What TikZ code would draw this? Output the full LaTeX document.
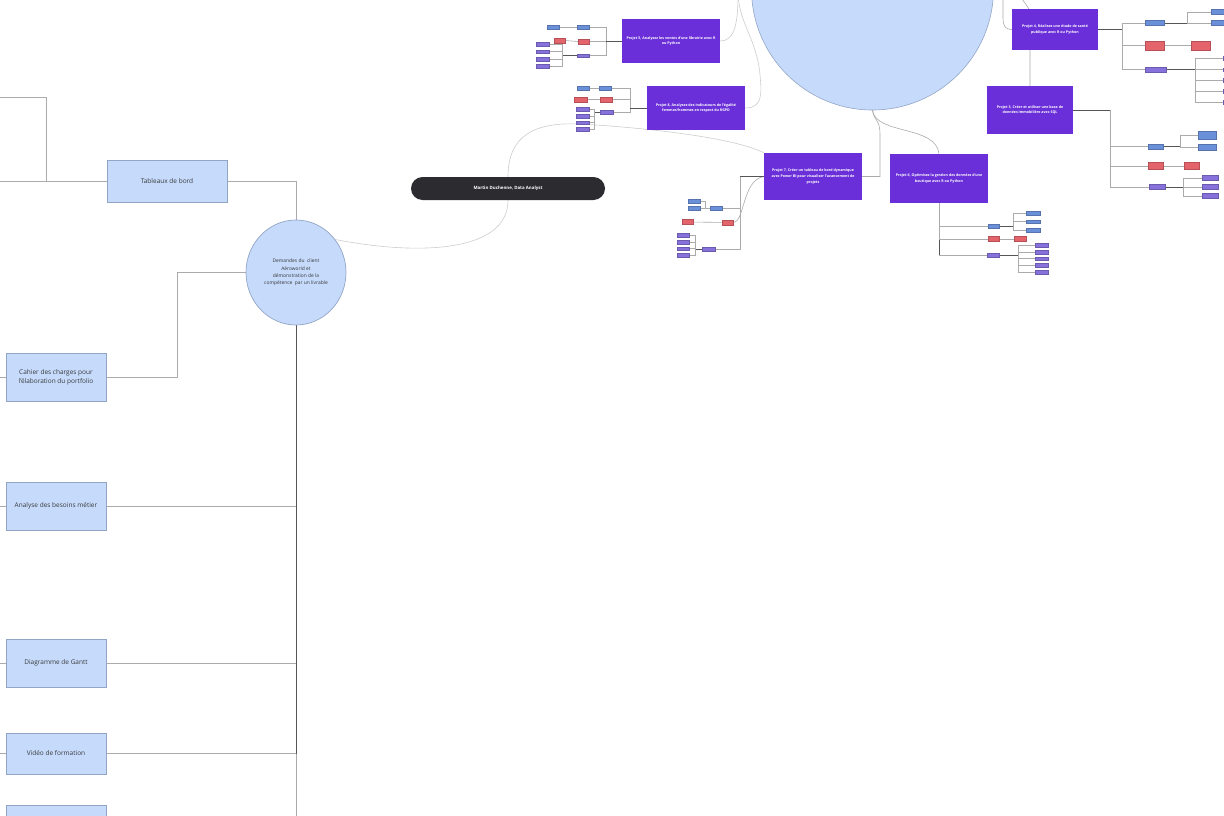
\documentclass[tikz,border=0pt]{standalone}
\usepackage{fontspec}
\setmainfont{Open Sans}
\usetikzlibrary{backgrounds,shapes.geometric}

\definecolor{boxblue}{HTML}{C6DBFC}
\definecolor{boxedge}{HTML}{93A5C4}
\definecolor{proj}{HTML}{6A2FD8}
\definecolor{pillgray}{HTML}{2B2B30}
\definecolor{tagblue}{HTML}{6B90DA}
\definecolor{tagred}{HTML}{E4646B}
\definecolor{tagpurple}{HTML}{8672DA}
\definecolor{wirecol}{HTML}{ABABAB}
\definecolor{wiredarkcol}{HTML}{555555}
\definecolor{wirefaintcol}{HTML}{CDCDCD}

\tikzset{
  topic/.style={draw=boxedge, fill=boxblue, line width=0.7pt, minimum width=100pt,
    minimum height=48pt, align=center, text=black!78, inner sep=1pt,
    font=\fontsize{6.5}{9}\selectfont},
  project/.style={fill=proj, minimum width=98pt, minimum height=44pt, align=center,
    text=white, inner sep=1pt, font=\fontsize{3.6}{5.6}\selectfont\bfseries},
  pill/.style={fill=pillgray, rounded corners=11.5pt, minimum width=194pt,
    minimum height=23pt, text=white, font=\fontsize{4.4}{5}\selectfont\bfseries},
  tagbox/.style={minimum height=3.5pt, inner sep=0pt, line width=0.25pt},
  tb/.style={tagbox, fill=tagblue, draw=tagblue!80!black, minimum width=#1},
  tb/.default=12pt,
  tr/.style={tagbox, fill=tagred, draw=tagred!80!black, minimum width=#1, minimum height=5pt},
  tr/.default=12pt,
  tp/.style={tagbox, fill=tagpurple, draw=tagpurple!80!black, minimum width=#1},
  tp/.default=13pt,
  wire/.style={draw=wirecol, line width=0.6pt},
  wiredk/.style={draw=wiredarkcol, line width=0.9pt},
  wirefaint/.style={draw=wirefaintcol, line width=0.6pt},
}

\begin{document}
\begin{tikzpicture}[x=1pt,y=-1pt]
\useasboundingbox (0,0) rectangle (1224,816);
\clip (0,0) rectangle (1224,816);

% ---------- left branch: client requests ----------
\node[topic, minimum width=120pt, minimum height=42pt] (tab) at (167,181) {Tableaux de bord};
\node[topic] (cahier) at (56,377) {Cahier des charges pour\\l'élaboration du portfolio};
\node[topic] (analyse) at (56,506) {Analyse des besoins métier};
\node[topic] (gantt) at (56,663) {Diagramme de Gantt};
\node[topic, minimum height=41pt] (video) at (56,753.5) {Vidéo de formation};
\node[topic] (extra) at (56,829) {};
\node[ellipse, draw=boxedge, fill=boxblue, line width=0.7pt, minimum width=100pt,
  minimum height=105pt, align=center, text=black!78, inner sep=0pt,
  font=\fontsize{4.9}{7.3}\selectfont] (client) at (296,272.5)
  {Demandes du\ \ client\\Aéroworld et\\démonstration de la\\compétence\ \ par un livrable};

\coordinate (inA) at (-5,97);
\coordinate (inB) at (-5,181);
\coordinate (inC) at (-5,377);
\coordinate (inD) at (-5,506);
\coordinate (inE) at (-5,663);
\coordinate (inF) at (-5,753.5);
\coordinate (inG) at (-5,829);

% ---------- central title ----------
\node[pill] (martin) at (508,188.5) {Martin Duchenne, Data Analyst};

% ---------- projects hub ----------
\node[circle, draw=boxedge, fill=boxblue, line width=0.6pt, minimum size=242pt, inner sep=0pt] (hub) at (872.5,-11) {};
\coordinate (top1) at (738,-5);
\coordinate (top2) at (1003,-5);
\coordinate (top3) at (1021,-5);

\node[project] (p5) at (671,41) {Projet 5, Analysez les ventes d'une librairie avec R\\ou Python};
\node[project] (p8) at (696,108) {Projet 8, Analysez des indicateurs de l'égalité\\femmes/hommes en respect du RGPD};
\node[project, minimum height=47pt] (p7) at (813,176.5) {Projet 7, Créer un tableau de bord dynamique\\avec Power BI pour visualiser l'avancement de\\projets};
\node[project, minimum height=49pt] (p6) at (939,178.5) {Projet 6, Optimisez la gestion des données d'une\\boutique avec R ou Python};
\node[project, minimum width=86pt, minimum height=41pt] (p4) at (1055,29.5) {Projet 4, Réalisez une étude de santé\\publique avec R ou Python};
\node[project, minimum width=86pt, minimum height=48pt] (p3) at (1030,110) {Projet 3, Créer et utiliser une base de\\données immobilière avec SQL};

% ---------- project 5 details ----------
\node[tb] (p5b1) at (553,27) {};
\node[tb] (p5b2) at (583.5,27) {};
\node[tr=11pt] (p5r1) at (559.5,40.5) {};
\node[tr=11pt] (p5r2) at (583.5,41.5) {};
\node[tp=12pt] (p5h) at (583,55.5) {};
\node[tp] (p5c1) at (542.5,44) {};
\node[tp] (p5c2) at (542.5,51.5) {};
\node[tp] (p5c3) at (542.5,59) {};
\node[tp] (p5c4) at (542.5,66) {};
\coordinate (p5k) at (606,41);
\coordinate (p5pj) at (562,55.5);

% ---------- project 8 details ----------
\node[tb] (p8b1) at (583.5,88) {};
\node[tb] (p8b2) at (605.5,88) {};
\node[tr=13pt] (p8r1) at (580.5,99.5) {};
\node[tr=12pt] (p8r2) at (606,99.5) {};
\node[tp] (p8h) at (606.5,112) {};
\node[tp] (p8c1) at (582.5,109) {};
\node[tp] (p8c2) at (582.5,116) {};
\node[tp] (p8c3) at (582.5,122.5) {};
\node[tp] (p8c4) at (582.5,129) {};
\coordinate (p8k) at (630,108);
\coordinate (p8pj) at (594,112);

% ---------- project 7 details ----------
\node[tb] (p7b1) at (694,201) {};
\node[tb] (p7b2) at (694,208) {};
\node[tb] (p7bh) at (716,208) {};
\coordinate (p7bj) at (705,208);
\node[tr=11pt] (p7r1) at (687.5,222) {};
\node[tr=11pt] (p7r2) at (727.5,222.5) {};
\node[tp=12pt] (p7c1) at (683,235) {};
\node[tp=12pt] (p7c2) at (683,242) {};
\node[tp=12pt] (p7c3) at (683,248.5) {};
\node[tp=12pt] (p7c4) at (683,255) {};
\node[tp] (p7h) at (708.5,249) {};
\coordinate (p7pj) at (695,249);
\coordinate (p7k) at (740,176.5);

% ---------- project 6 details ----------
\node[tb=11pt] (p6bh) at (993.5,226) {};
\node[tb=14pt] (p6b1) at (1033,213) {};
\node[tb=14pt] (p6b2) at (1033,221.5) {};
\node[tb=14pt] (p6b3) at (1033,230) {};
\coordinate (p6bj) at (1013,226);
\node[tr=11pt] (p6r1) at (993.5,239) {};
\node[tr=12pt] (p6r2) at (1020,239) {};
\node[tp=12pt] (p6h) at (993,255) {};
\node[tp] (p6c1) at (1041.5,245) {};
\node[tp] (p6c2) at (1041.5,252) {};
\node[tp] (p6c3) at (1041.5,258.5) {};
\node[tp] (p6c4) at (1041.5,265) {};
\node[tp] (p6c5) at (1041.5,272) {};
\coordinate (p6pj) at (1018,255);
\coordinate (p6k) at (939,255);

% ---------- project 4 details ----------
\coordinate (p4k) at (1122,29.5);
\node[tb=19pt, minimum height=5pt] (p4bh) at (1154.5,23) {};
\node[tb=24pt, minimum height=5pt] (p4b1) at (1223,12) {};
\node[tb=24pt, minimum height=5pt] (p4b2) at (1223,23) {};
\coordinate (p4bj) at (1187,23);
\node[tr=19pt, minimum height=9pt] (p4rh) at (1154.5,45.5) {};
\node[tr=19pt, minimum height=9pt] (p4r2) at (1200.5,45.5) {};
\node[tp=21pt, minimum height=5pt] (p4h) at (1155.5,69.5) {};
\node[tp=24pt] (p4c1) at (1235,58) {};
\node[tp=24pt] (p4c2) at (1235,69.5) {};
\node[tp=24pt] (p4c3) at (1235,80) {};
\node[tp=24pt] (p4c4) at (1235,91) {};
\node[tp=24pt] (p4c5) at (1235,102) {};
\coordinate (p4pj) at (1195,69.5);

% ---------- project 3 details ----------
\coordinate (p3k) at (1110,110);
\node[tb=15pt, minimum height=5pt] (p3bh) at (1155.5,146.5) {};
\node[tb=18pt, minimum height=8pt] (p3b1) at (1207,135) {};
\node[tb=18pt, minimum height=6pt] (p3b2) at (1207,147.5) {};
\coordinate (p3bj) at (1180,146.5);
\node[tr=15pt, minimum height=7pt] (p3rh) at (1155.5,166) {};
\node[tr=15pt, minimum height=7pt] (p3r2) at (1191.5,166) {};
\node[tp=16pt, minimum height=5pt] (p3h) at (1157,187) {};
\node[tp=16pt, minimum height=5pt] (p3c1) at (1210,178) {};
\node[tp=16pt, minimum height=5pt] (p3c2) at (1210,187) {};
\node[tp=16pt, minimum height=5pt] (p3c3) at (1210,196) {};
\coordinate (p3pj) at (1183,187);

% ---------- connectors ----------
\begin{scope}[on background layer]
  % left side
  \draw[wire] (inA) -| (46,181) -- (tab.west);
  \draw[wire] (inB) -- (tab.west);
  \draw[wire] (tab.east) -| (client.north);
  \draw[wire] (client.west) -| (177,377) -- (cahier.east);
  \draw[wire] (inC) -- (cahier.west);
  \draw[wire] (inD) -- (analyse.west);
  \draw[wire] (inE) -- (gantt.west);
  \draw[wire] (inF) -- (video.west);
  \draw[wire] (inG) -- (extra.west);
  \draw[wiredk] (client.south) -- (client.south |- video.east);
  \draw[wire] (client.south |- video.east) -- (client.south |- extra.east) -- (extra.east);
  \draw[wire] (analyse.east) -- (analyse.east -| client.south);
  \draw[wire] (gantt.east) -- (gantt.east -| client.south);
  \draw[wire] (video.east) -- (video.east -| client.south);

  % title links
  \draw[wirefaint] (client.40) .. controls (420,256) and (508,252) .. (martin.south);
  \draw[wirefaint] (martin.north) .. controls (508,135) and (535,122) .. (580,124)
     .. controls (650,128) and (735,138) .. (p7.north west);

  % projects to hub
  \draw[wirefaint] (p5.east) .. controls (733,41) and (738,28) .. (top1);
  \draw[wirefaint] (p8.east) .. controls (762,108) and (762,95) .. (760,75)
     .. controls (757,40) and (740,25) .. (top1);
  \draw[wire] (top2) -- (1003,18) .. controls (1003,27) and (1006,29.5) .. (p4.west);
  \draw[wire] (p3.north) -- (1030,15) .. controls (1030,5) and (1022,3) .. (top3);
  \draw[wire] (hub.south) .. controls (874,122) and (880,118) .. (880,135) -- (880,176.5) -- (p7.east);
  \draw[wire] (hub.south) .. controls (876,135) and (936,125) .. (p6.north);

  % project 5
  \draw[wire] (p5b1) -- (p5b2);
  \draw[wire] (p5r1.east) -- (p5r2.west);
  \draw[wiredk] (p5h.west) -- (p5pj);
  \foreach \i in {1,...,4} \draw[wire] (p5pj) |- (p5c\i.east);
  \draw[wire] (p5b2.east) -| (p5k);
  \draw[wire] (p5r2.east) -| (p5k);
  \draw[wire] (p5h.east) -| (p5k);
  \draw[wiredk] (p5k) -- (p5.west);

  % project 8
  \draw[wire] (p8b1) -- (p8b2);
  \draw[wire] (p8r1) -- (p8r2);
  \draw[wiredk] (p8h.west) -- (p8pj);
  \foreach \i in {1,...,4} \draw[wire] (p8pj) |- (p8c\i.east);
  \draw[wire] (p8b2.east) -| (p8k);
  \draw[wire] (p8r2.east) -| (p8k);
  \draw[wire] (p8h.east) -| (p8k);
  \draw[wiredk] (p8k) -- (p8.west);

  % project 7
  \draw[wire] (p7b1.east) -| (p7bj);
  \draw[wire] (p7b2.east) -- (p7bh.west);
  \draw[wire] (p7r1) -- (p7r2);
  \draw[wiredk] (p7h.west) -- (p7pj);
  \foreach \i in {1,...,4} \draw[wire] (p7pj) |- (p7c\i.east);
  \draw[wire] (p7bh.east) -| (p7k);
  \draw[wire] (p7h.east) -| (p7k);
  \draw[wire] (p7r2.east) .. controls (745,222) and (742,180) .. (p7.west);
  \draw[wiredk] (p7k) -- (p7.west);

  % project 6
  \draw[wiredk] (p6.south) -- (p6k);
  \draw[wire] (p6.south) |- (p6bh.west);
  \draw[wire] (p6.south) |- (p6r1.west);
  \draw[wire] (p6k) -- (p6h.west);
  \draw[wiredk] (p6bh.east) -- (p6bj);
  \foreach \i in {1,2,3} \draw[wire] (p6bj) |- (p6b\i.west);
  \draw[wire] (p6r1) -- (p6r2);
  \draw[wiredk] (p6h.east) -- (p6pj);
  \foreach \i in {1,...,5} \draw[wire] (p6pj) |- (p6c\i.west);

  % project 4
  \draw[wiredk] (p4.east) -- (p4k);
  \draw[wire] (p4k) |- (p4bh.west);
  \draw[wire] (p4k) |- (p4rh.west);
  \draw[wire] (p4k) |- (p4h.west);
  \draw[wiredk] (p4bh.east) -- (p4bj);
  \draw[wire] (p4bj) |- (p4b1.west);
  \draw[wire] (p4bj) -- (p4b2.west);
  \draw[wire] (p4rh) -- (p4r2);
  \draw[wiredk] (p4h.east) -- (p4pj);
  \foreach \i in {1,...,5} \draw[wire] (p4pj) |- (p4c\i.west);

  % project 3
  \draw[wiredk] (p3.east) -- (p3k);
  \draw[wire] (p3k) |- (p3bh.west);
  \draw[wire] (p3k) |- (p3rh.west);
  \draw[wire] (p3k) |- (p3h.west);
  \draw[wiredk] (p3bh.east) -- (p3bj);
  \draw[wire] (p3bj) |- (p3b1.west);
  \draw[wire] (p3bj) |- (p3b2.west);
  \draw[wire] (p3rh) -- (p3r2);
  \draw[wiredk] (p3h.east) -- (p3pj);
  \foreach \i in {1,2,3} \draw[wire] (p3pj) |- (p3c\i.west);
\end{scope}
\end{tikzpicture}
\end{document}
